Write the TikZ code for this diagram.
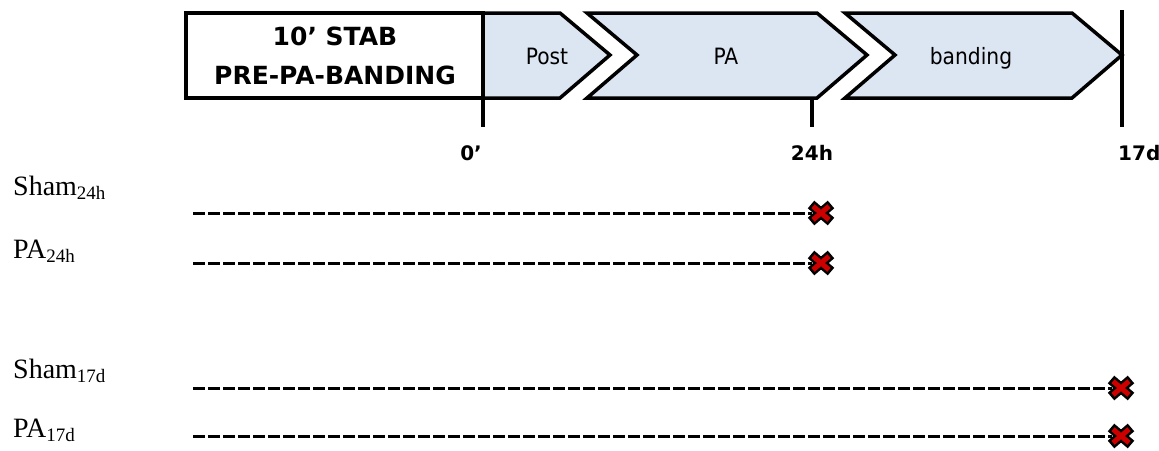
\documentclass[tikz,border=0pt]{standalone}
\usepackage{fontspec}
\setmainfont{Liberation Serif}
\newfontfamily\dv{DejaVu Sans}
\newfontfamily\dvc{DejaVu Sans Condensed}
\definecolor{lb}{RGB}{220,230,242}
\definecolor{xred}{RGB}{205,0,0}
\newcommand{\grp}[2]{{\fontsize{28}{30}\selectfont #1\raisebox{-4pt}{\fontsize{19}{20}\selectfont #2}}}
\begin{document}
\begin{tikzpicture}[x=1pt,y=-1pt,
  frame/.style={line width=3.5pt, line join=miter},
  chev/.style={frame, fill=lb},
  tickline/.style={line width=3.5pt},
  trace/.style={line width=3pt, dash pattern=on 12pt off 3pt},
  boxlbl/.style={font=\dv\bfseries\fontsize{25}{39}\selectfont, align=center, inner sep=0},
  phase/.style={font=\dvc\fontsize{22.5}{24}\selectfont, inner sep=0},
  timelbl/.style={font=\dv\bfseries\fontsize{20}{22}\selectfont, inner sep=0},
  grplbl/.style={anchor=base west, inner sep=0},
  xmark/.pic={
    \draw[line width=10pt] (-10,-8.5)--(10,8.5) (-10,8.5)--(10,-8.5);
    \draw[xred,line width=5pt] (-8,-6.8)--(8,6.8) (-8,6.8)--(8,-6.8);
  }]
\useasboundingbox (0,0) rectangle (1159,450);
% phase bar
\filldraw[chev] (483,13) -- (560,13) -- (610,55) -- (560,98) -- (483,98) -- cycle;
\filldraw[frame, fill=white] (186,13) rectangle (483,98);
\filldraw[chev] (587,13) -- (817,13) -- (867,55) -- (817,98) -- (587,98) -- (637,55) -- cycle;
\filldraw[chev] (845,13) -- (1072,13) -- (1122,55) -- (1072,98) -- (845,98) -- (895,55) -- cycle;
% ticks
\draw[tickline] (483,98) -- (483,127);
\draw[tickline] (812,98) -- (812,127);
\draw[tickline] (1122,10) -- (1122,127);
% labels in bar
\node[boxlbl] (stab) at (335,56) {10’ STAB\\PRE-PA-BANDING};
\node[phase, anchor=base] (post) at (547,64) {Post};
\node[phase, anchor=base] (pa) at (726,64) {PA};
\node[phase, anchor=base] (band) at (971,64) {banding};
% time labels
\node[timelbl, anchor=base east] (t0) at (482,160) {0’};
\node[timelbl, anchor=base] (t24) at (812,160) {24h};
\node[timelbl, anchor=base west] (t17) at (1118,160) {17d};
% group labels
\node[grplbl] (g1) at (13,195) {\grp{Sham}{24h}};
\node[grplbl] (g2) at (13,258) {\grp{PA}{24h}};
\node[grplbl] (g3) at (13,378) {\grp{Sham}{17d}};
\node[grplbl] (g4) at (13,437) {\grp{PA}{17d}};
% traces
\coordinate (s1) at (193,213);
\coordinate (s2) at (193,263);
\coordinate (s3) at (193,388);
\coordinate (s4) at (193,436);
\coordinate (e1) at (821,213);
\coordinate (e2) at (821,263);
\coordinate (e3) at (1121,388);
\coordinate (e4) at (1121,436);
\foreach \i in {1,2,3,4} {
  \draw[trace, shorten >=9pt] (s\i) -- (e\i);
  \pic at (e\i) {xmark};
}
\end{tikzpicture}
\end{document}
